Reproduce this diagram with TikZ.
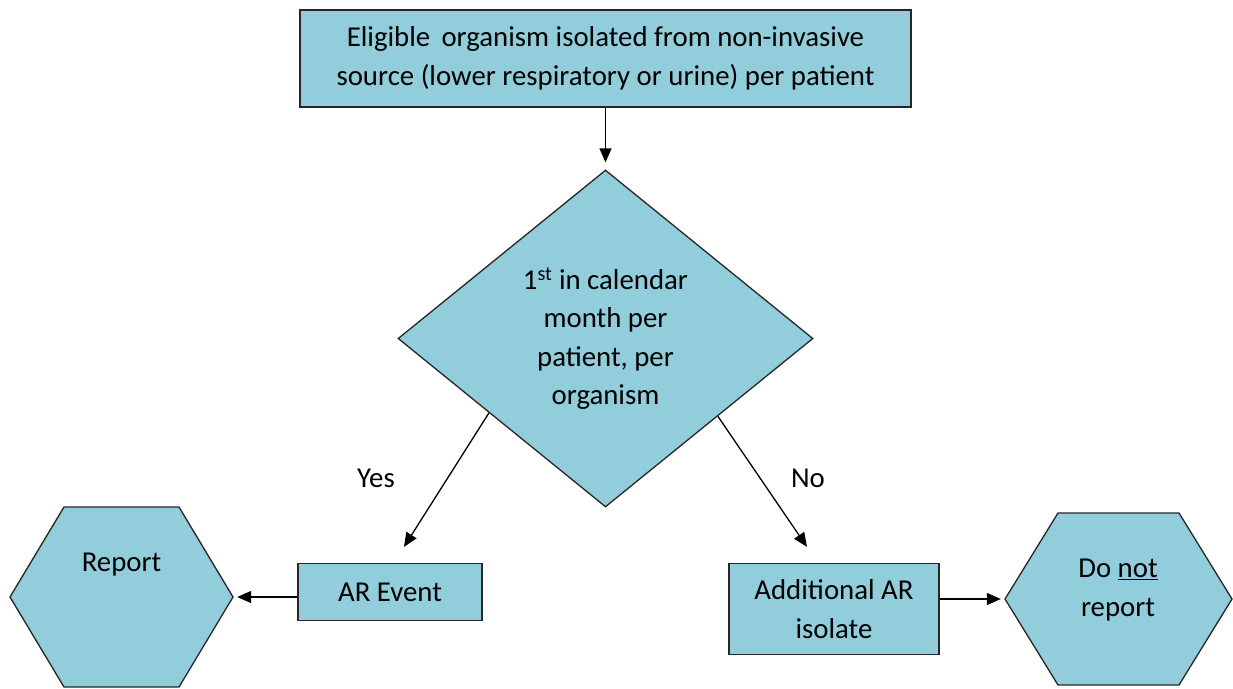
\documentclass[tikz,border=0pt]{standalone}
\usepackage{fontspec}
\setmainfont{Carlito}
\usetikzlibrary{shapes.geometric,arrows.meta,calc}
\definecolor{boxfill}{HTML}{92CDDC}
\definecolor{edgecol}{HTML}{262626}
\begin{document}
\begin{tikzpicture}[x=1pt,y=-1pt,
  txt/.style={font=\fontsize{28.8}{38.5}\selectfont, text=black, align=center, inner sep=0pt},
  boxnode/.style={txt, draw=edgecol, fill=boxfill, line width=1.3pt},
  hexarea/.style={inner sep=0pt, minimum width=223pt, minimum height=180pt},
  hexshape/.style={draw=edgecol, fill=boxfill, line width=1.3pt, line join=miter},
  arr/.style={-{Triangle[length=14pt,width=12pt]}, line width=1.3pt, black}]
\useasboundingbox (0,0) rectangle (1233,688);

% top box
\node[boxnode, minimum width=611pt, minimum height=97pt] (top) at (605.5,58.5)
  {Eligible\, organism isolated from non-invasive\\source (lower respiratory or urine) per patient};

% diamond
\node[boxnode, shape=diamond, minimum width=415pt, minimum height=337pt, aspect=1.23] (dia) at (605.5,338.5)
  {1\textsuperscript{st} in calendar\\month per\\patient, per\\organism};

% rectangles
\node[boxnode, minimum width=184pt, minimum height=57pt] (ar) at (390,592) {AR Event};
\node[boxnode, minimum width=210pt, minimum height=91pt] (add) at (834,609) {Additional AR\\isolate};

% hexagons
\draw[hexshape] (10,597) -- (64,507) -- (179,507) -- (233,597) -- (179,687) -- (64,687) -- cycle;
\node[hexarea] (rep) at (121.5,597) {};
\node[txt] (reptxt) at (121.5,565) {Report};

\draw[hexshape] (1005,599) -- (1058,513) -- (1179,513) -- (1232,599) -- (1179,685) -- (1058,685) -- cycle;
\node[hexarea, minimum width=227pt, minimum height=172pt] (dnr) at (1118.5,599) {};
\node[txt] (dnrtxt) at (1118,590) {Do \underline{not}\\report};

% labels
\node[txt] (yes) at (376,478) {Yes};
\node[txt] (no) at (808,478) {No};

% connectors
\draw[arr, shorten >=7pt] (top.south) -- (dia.north);
\coordinate (yesend) at ($(ar.north)+(14,-16)$);
\coordinate (noend) at ($(add.north)+(-27,-16)$);
\draw[arr] ($(dia.west)!0.44!(dia.south)$) -- (yesend);
\draw[arr] ($(dia.east)!0.46!(dia.south)$) -- (noend);
\draw[arr, shorten >=4pt] (ar.west |- rep.east) -- (rep.east);
\draw[arr, shorten >=4pt] (add.east |- dnr.west) -- (dnr.west);
\end{tikzpicture}
\end{document}
